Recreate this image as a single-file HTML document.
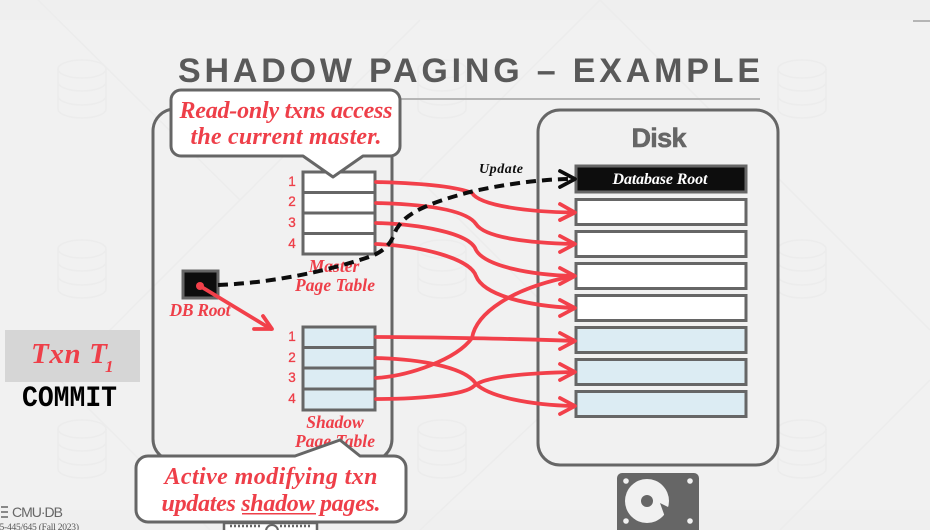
<!DOCTYPE html>
<html>
<head>
<meta charset="utf-8">
<style>
html,body{margin:0;padding:0;background:#f1f1f1;width:930px;height:530px;overflow:hidden}
svg{display:block}
.s{font-family:"Liberation Serif",serif;font-style:italic;font-weight:bold;fill:#ee3f49}
.n{font-family:"Liberation Sans",sans-serif;font-size:13.5px;fill:#ee3f49;stroke:#ee3f49;stroke-width:.3;text-anchor:middle}
.r{fill:#fff;stroke:#666;stroke-width:3}
.b{fill:#dcecf3;stroke:#666;stroke-width:3}
.c{fill:none;stroke:#f2404a;stroke-width:3.800;stroke-linecap:round;stroke-linejoin:round}
.f{fill:none;stroke:#ececec;stroke-width:1.500}
</style>
</head>
<body>
<svg width="930" height="530" viewBox="0 0 930 530" xmlns="http://www.w3.org/2000/svg">
<defs>
<g id="db"><ellipse cx="24" cy="9" rx="24" ry="9"/><path d="M0 9V49c0 5 11 9 24 9s24-4 24-9V9M0 22c0 5 11 9 24 9s24-4 24-9M0 36c0 5 11 9 24 9s24-4 24-9"/></g>
</defs>
<rect width="930" height="530" fill="#f1f1f1"/>
<rect width="930" height="20" fill="#efefef"/>
<rect y="510" width="930" height="20" fill="#efefef"/>
<g class="f">
<use href="#db" x="58" y="60"/><use href="#db" x="418" y="60"/><use href="#db" x="778" y="60"/>
<use href="#db" x="58" y="420"/><use href="#db" x="418" y="420"/><use href="#db" x="778" y="420"/>
<use href="#db" x="418" y="240"/><use href="#db" x="58" y="240"/><use href="#db" x="778" y="240"/>
<path d="M38 0L240 200L420 20M600 0L420 180L600 360L420 530M240 200L60 380L210 530M600 360L780 180L600 0M780 180L930 330M780 530L930 380"/>
</g>
<rect x="913" y="20" width="17" height="2" fill="#b5b5b5"/>

<text x="178" y="82" font-family="'Liberation Sans',sans-serif" font-weight="bold" font-size="34" fill="#595959" textLength="582" lengthAdjust="spacing">SHADOW PAGING – EXAMPLE</text>
<rect x="390" y="98" width="370" height="2" fill="#b5b5b5"/>

<!-- containers -->
<rect x="153" y="109" width="239" height="352" rx="22" fill="none" stroke="#666" stroke-width="3"/>
<rect x="538" y="110" width="240" height="355" rx="22" fill="#f1f1f1" stroke="#666" stroke-width="3"/>

<text x="659" y="147" font-family="'Liberation Sans',sans-serif" font-weight="bold" font-size="27" fill="#666" stroke="#666" stroke-width=".6" text-anchor="middle" textLength="55">Disk</text>

<!-- master table -->
<rect x="303" y="172" width="72" height="82" fill="#fff" stroke="#666" stroke-width="3"/>
<path d="M303 192.500H375M303 213H375M303 233.500H375" stroke="#666" stroke-width="3"/>
<text class="n" x="292" y="186">1</text><text class="n" x="292" y="206">2</text><text class="n" x="292" y="227">3</text><text class="n" x="292" y="248">4</text>

<!-- shadow table -->
<rect x="303" y="327" width="72" height="83" fill="#dcecf3" stroke="#666" stroke-width="3"/>
<path d="M303 347.500H375M303 368H375M303 389H375" stroke="#666" stroke-width="3"/>
<text class="n" x="292" y="341">1</text><text class="n" x="292" y="362">2</text><text class="n" x="292" y="382">3</text><text class="n" x="292" y="403">4</text>

<!-- disk rows -->
<rect x="576" y="166" width="170" height="26" fill="#0d0d0d" stroke="#666" stroke-width="3"/>
<rect class="r" x="576" y="199.500" width="170" height="25"/>
<rect class="r" x="576" y="231.500" width="170" height="25"/>
<rect class="r" x="576" y="263.500" width="170" height="25"/>
<rect class="r" x="576" y="295.500" width="170" height="25"/>
<rect class="b" x="576" y="327.500" width="170" height="25"/>
<rect class="b" x="576" y="359.500" width="170" height="25"/>
<rect class="b" x="576" y="391.500" width="170" height="25"/>
<text x="660" y="184" font-family="'Liberation Serif',serif" font-style="italic" font-weight="bold" font-size="16" fill="#fff" text-anchor="middle" textLength="95">Database Root</text>

<!-- labels -->
<text class="s" x="334" y="272" font-size="17.500" text-anchor="middle">Master</text>
<text class="s" x="335" y="291" font-size="17.500" text-anchor="middle" textLength="80">Page Table</text>
<text class="s" x="335" y="428" font-size="17.500" text-anchor="middle">Shadow</text>
<text class="s" x="335" y="447" font-size="17.500" text-anchor="middle" textLength="80">Page Table</text>
<text class="s" x="200" y="316" font-size="17.500" text-anchor="middle" textLength="61">DB Root</text>
<text x="501" y="173" font-family="'Liberation Serif',serif" font-style="italic" font-weight="bold" font-size="14" fill="#0d0d0d" text-anchor="middle" textLength="44">Update</text>

<!-- red connectors -->
<g class="c">
<path d="M376 182C415 183 455 186 472 193C480 206 530 212 574 212.500"/>
<path d="M376 203C415 204 465 208 476 224C485 238 530 243 574 244"/>
<path d="M376 223C415 224 470 232 476 250C485 266 530 275 574 276"/>
<path d="M376 244C420 246 470 258 476 276C484 296 530 306 574 308"/>
<path d="M376 337C420 337 530 339 574 341"/>
<path d="M376 358C415 359 465 366 476 384C490 397 530 405 574 406"/>
<path d="M376 378C408 376 456 360 472 338C476 314 510 288 574 276"/>
<path d="M376 399C420 399 465 395 474 386C485 376 530 373 574 372"/>
<path d="M560 204L575 212.500L560 220"/>
<path d="M560 236L575 244L560 252"/>
<path d="M560 268L575 276L560 284"/>
<path d="M560 300L575 308L560 316"/>
<path d="M560 333L575 341L560 349"/>
<path d="M560 364L575 372L560 380"/>
<path d="M560 398L575 406L560 414"/>
</g>

<!-- DB root square -->
<rect x="183" y="271" width="35" height="27" fill="#0d0d0d" stroke="#666" stroke-width="3"/>
<g class="c">
<path d="M200 286L271 329"/>
<path d="M254 329H272L263 316"/>
</g>
<circle cx="200" cy="286" r="4" fill="#f2404a"/>

<!-- dashed black -->
<path d="M218 285C270 283 325 272 372 256C395 246 393 232 398 227C408 210 440 200 470 192C500 185 540 179 572 179" fill="none" stroke="#0d0d0d" stroke-width="4" stroke-dasharray="10 6"/>
<path d="M560 171L575 179L560 187" fill="none" stroke="#0d0d0d" stroke-width="3.800" stroke-linecap="round" stroke-linejoin="round"/>

<!-- callouts -->
<path d="M181 90H390a10 10 0 0 1 10 10V146a10 10 0 0 1-10 10H363L333 177L303 156H181a10 10 0 0 1-10-10V100a10 10 0 0 1 10-10z" fill="#fff" stroke="#666" stroke-width="3" stroke-linejoin="round"/>
<text class="s" x="286" y="118" font-size="24" text-anchor="middle" textLength="213">Read-only txns access</text>
<text class="s" x="286" y="144" font-size="24" text-anchor="middle" textLength="191">the current master.</text>

<!-- server stub -->
<path d="M224 530V523H317V530" fill="#fff" stroke="#666" stroke-width="2.500"/>
<path d="M230 526H262M280 526H312" stroke="#666" stroke-width="2.500" stroke-dasharray="2 2"/>
<circle cx="272" cy="531" r="6" fill="#fff" stroke="#666" stroke-width="2"/>

<path d="M148 456H295L340 440L360 456H394a12 12 0 0 1 12 12V510a12 12 0 0 1-12 12H148a12 12 0 0 1-12-12V468a12 12 0 0 1 12-12z" fill="#fff" stroke="#666" stroke-width="3" stroke-linejoin="round"/>
<text class="s" x="271" y="484" font-size="24" text-anchor="middle" textLength="213">Active modifying txn</text>
<text class="s" x="271" y="511" font-size="24" text-anchor="middle" textLength="219">updates shadow pages.</text>
<rect x="242" y="513" width="74" height="1.500" fill="#ee3f49"/>

<!-- disk icon -->
<rect x="617" y="473" width="82" height="70" rx="5" fill="#666"/>
<circle cx="626" cy="481" r="2.800" fill="#f1f1f1"/><circle cx="690" cy="481" r="2.800" fill="#f1f1f1"/>
<circle cx="626" cy="521" r="2.800" fill="#f1f1f1"/><circle cx="690" cy="521" r="2.800" fill="#f1f1f1"/>
<circle cx="647" cy="501" r="22" fill="#f1f1f1"/>
<circle cx="647" cy="501" r="6" fill="#666"/>
<path d="M660 503L680 513L670 531z" fill="#666"/>

<!-- left -->
<rect x="5" y="330" width="135" height="52" fill="#d6d6d6"/>
<text class="s" x="31" y="363" font-size="29" textLength="76">Txn T</text>
<text class="s" x="105" y="372" font-size="17">1</text>
<text x="22" y="406" font-family="'Liberation Mono',monospace" font-weight="bold" font-size="30" fill="#000" textLength="95" lengthAdjust="spacingAndGlyphs">COMMIT</text>

<!-- footer -->
<g fill="none" stroke="#666" stroke-width="1.500"><path d="M1 507H8M1 512H8M1 517H8"/></g>
<text x="12" y="517" font-family="'Liberation Sans',sans-serif" font-size="14" fill="#666" textLength="51">CMU·DB</text>
<text x="-5" y="530" font-family="'Liberation Serif',serif" font-size="9.500" fill="#555" textLength="84">15-445/645 (Fall 2023)</text>
</svg>
</body>
</html>
